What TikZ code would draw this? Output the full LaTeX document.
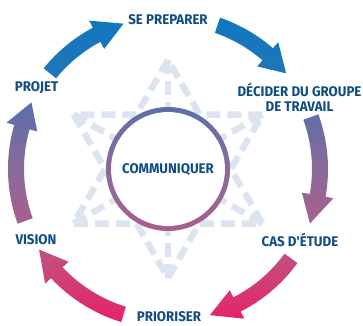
\documentclass[tikz,border=0pt]{standalone}
\usepackage{fontspec}
\setmainfont{Fira Sans}
\newfontfamily\phasefont[FakeStretch=0.95]{Fira Sans}
\usetikzlibrary{arrows}

\definecolor{labelblue}{RGB}{16,76,132}
\definecolor{starblue}{RGB}{220,228,240}
\definecolor{cyc0}{RGB}{10,120,192}
\definecolor{cyc1}{RGB}{34,117,185}
\definecolor{cyc2}{RGB}{88,111,171}
\definecolor{cyc3}{RGB}{138,106,156}
\definecolor{cyc4}{RGB}{171,94,138}
\definecolor{cyc5}{RGB}{196,76,124}
\definecolor{cyc6}{RGB}{234,31,104}
% top of the picture is blue, bottom is pink
\pgfdeclareverticalshading{cycleshade}{100bp}{color(0bp)=(cyc6); color(25bp)=(cyc6);
  color(35bp)=(cyc5); color(39.6bp)=(cyc4); color(48.9bp)=(cyc3);
  color(59.6bp)=(cyc2); color(62.7bp)=(cyc1); color(75bp)=(cyc0); color(100bp)=(cyc0)}

\begin{document}
\begin{tikzpicture}[x=1pt,y=1pt,
  starline/.style={draw=starblue,line width=6.5pt,dash pattern=on 14pt off 7pt,line join=miter},
  phasetext/.style={text=labelblue,font=\phasefont\bfseries\fontsize{14}{15}\selectfont,align=center}]

  \useasboundingbox (-168,-156) rectangle (195,169);
  \coordinate (o) at (0,0);

  % star
  \coordinate (u1) at (90:109);
  \coordinate (u2) at (210:109);
  \coordinate (u3) at (330:109);
  \coordinate (d1) at (30:109);
  \coordinate (d2) at (150:109);
  \coordinate (d3) at (270:109);
  \draw[starline] (u1) -- (u2) -- (u3) -- cycle;
  \draw[starline] (d1) -- (d2) -- (d3) -- cycle;
  \foreach \v in {u1,u2,u3,d1,d2,d3}
    \draw[starline] (\v) -- (o);

  % arrows and ring
  \begin{scope}
    \clip (o) circle[radius=62pt]
      \foreach \t/\b/\p in {141/118/107, 71/49/39, 20/-10/-21, -36/-63/-74,
                            -107/-137/-148, 200/164/154}
      { (\t:160) arc[start angle=\t,end angle=\b,radius=160pt] -- (\b:168)
        -- (\p:152) -- (\b:136) -- (\b:144)
        arc[start angle=\b,end angle=\t,radius=144pt] -- cycle };
    \shade[shading=cycleshade] (-168,-156) rectangle (195,169);
  \end{scope}
  \fill[white] (o) circle[radius=57pt];

  \node[phasetext] (preparer) at (0,149) {SE PREPARER};
  \node[phasetext] (decider) at (131.5,71.5) {DÉCIDER DU GROUPE\\DE TRAVAIL};
  \node[phasetext] (etude) at (132,-71) {CAS D'ÉTUDE};
  \node[phasetext] (prioriser) at (1,-147.5) {PRIORISER};
  \node[phasetext] (vision) at (-132,-71) {VISION};
  \node[phasetext] (projet) at (-131.5,81) {PROJET};
  \node[phasetext] (comm) at (0,-1) {COMMUNIQUER};

\end{tikzpicture}
\end{document}
